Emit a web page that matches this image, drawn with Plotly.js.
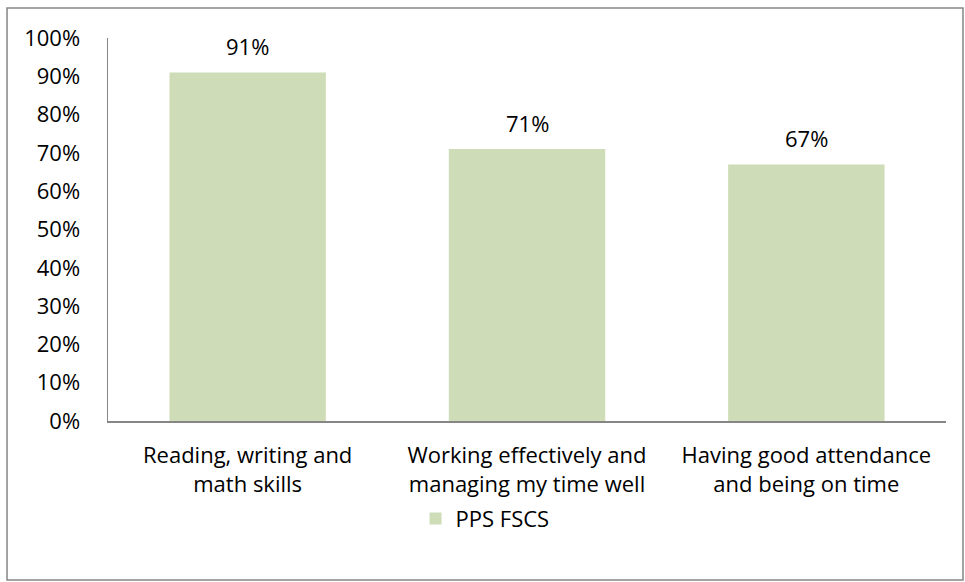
<!DOCTYPE html>
<html>
<head>
<meta charset="utf-8">
<script src="https://cdn.plot.ly/plotly-3.0.1.min.js"></script>
<style>html,body{margin:0;padding:0;background:#fff;}#chart{width:965px;height:582px;}</style>
</head>
<body>
<div id="chart"></div>
<script>
const categories = ["Reading, writing and<br>math skills", "Working effectively and<br>managing my time well", "Having good attendance<br>and being on time"];
const values = [0.91, 0.71, 0.67];
const labels = ["91%", "71%", "67%"];
const seriesName = "PPS FSCS";

const FONT = "'Open Sans', sans-serif";
const FS = 22;
const trace = {
  type: "bar",
  x: categories,
  y: values,
  name: seriesName,
  marker: {color: "#cfdcb8"},
  showlegend: true,
  hoverinfo: "none"
};
const annotations = categories.map((c, i) => ({
  x: c, y: values[i], xref: "x", yref: "y", text: labels[i],
  showarrow: false, yanchor: "bottom", yshift: 9,
  font: {family: FONT, size: FS, color: "#000"}
}));
const layout = {
  width: 965, height: 582,
  margin: {l: 108, r: 19, t: 38, b: 161},
  paper_bgcolor: "#fff", plot_bgcolor: "#fff",
  font: {family: FONT, size: FS, color: "#000"},
  bargap: 0.44,
  xaxis: {
    showline: true, linecolor: "#868686", linewidth: 1.5,
    ticks: "", showgrid: false, zeroline: false,
    ticklabelstandoff: 14,
    tickfont: {family: FONT, size: FS, color: "#000"}
  },
  yaxis: {
    range: [0, 1], dtick: 0.1, tickformat: ".0%",
    showline: true, linecolor: "#868686", linewidth: 1.5,
    ticks: "", showgrid: false, zeroline: false,
    ticklabelstandoff: 22,
    tickfont: {family: FONT, size: FS, color: "#000"}
  },
  showlegend: true,
  legend: {
    orientation: "h", x: 0.367, xanchor: "left", y: -0.2, yanchor: "top",
    bgcolor: "rgba(0,0,0,0)",
    font: {family: FONT, size: FS, color: "#000"}
  },
  annotations: annotations,
  shapes: [{
    type: "rect", xref: "paper", yref: "paper",
    x0: -0.1205, x1: 1.0203, y0: -0.4151, y1: 1.0783,
    line: {color: "#868686", width: 1.5}, fillcolor: "rgba(0,0,0,0)"
  }]
};
Plotly.newPlot("chart", [trace], layout, {displayModeBar: false, staticPlot: true});
</script>
</body>
</html>
